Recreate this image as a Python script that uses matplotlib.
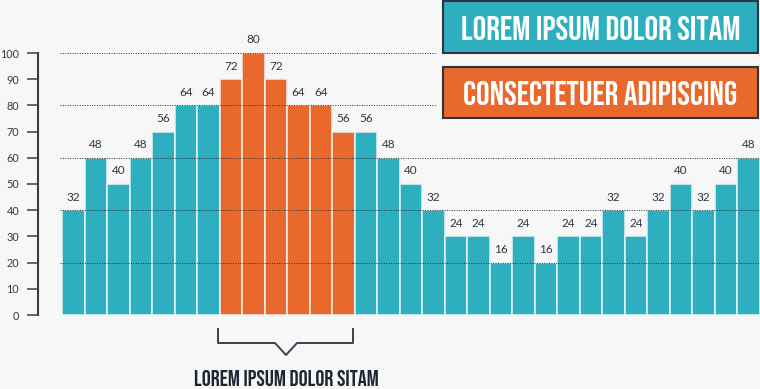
import matplotlib
matplotlib.use("Agg")
import matplotlib.pyplot as plt
from matplotlib import font_manager as fm
from matplotlib.lines import Line2D
from matplotlib.patches import Rectangle

# ---- data ----
bar_heights = [40, 60, 50, 60, 70, 80, 80, 90, 100, 90, 80, 80, 70,
               70, 60, 50, 40, 30, 30, 20, 30, 20, 30, 30, 40, 30, 40, 50, 40, 50, 60]
value_labels = [32, 48, 40, 48, 56, 64, 64, 72, 80, 72, 64, 64, 56,
                56, 48, 40, 32, 24, 24, 16, 24, 16, 24, 24, 32, 24, 32, 40, 32, 40, 48]
highlighted = [7, 8, 9, 10, 11, 12]
y_ticks = [0, 10, 20, 30, 40, 50, 60, 70, 80, 90, 100]
legend_labels = ["LOREM IPSUM DOLOR SITAM", "CONSECTETUER ADIPISCING"]
bracket_label = "LOREM IPSUM DOLOR SITAM"

# ---- style ----
BG = "#f7f7f8"
TEAL = "#2eafbf"
ORANGE = "#e8692b"
DARK = "#363c48"
NAVY = "#1e2534"

available = {f.name for f in fm.fontManager.ttflist}
def pick(*names):
    for n in names:
        if n in available:
            return n
    return "DejaVu Sans"

HEAD = pick("Bebas Neue", "Oswald", "Fjalla One", "Anton")
BODY = pick("Lato", "Noto Sans", "Open Sans")

W, H = 760, 389
fig = plt.figure(figsize=(W / 100, H / 100), dpi=100, facecolor=BG)

def fx(x):
    return x / W
def fy(y):
    return 1 - y / H

# axes: spine at px 38, y=0 at px 315, y=100 at px 53
ax = fig.add_axes([fx(38), fy(315), fx(760) - fx(38), fy(53) - fy(315)])
ax.set_facecolor(BG)
ax.set_ylim(0, 100)
ax.set_xlim(-1.567, 30.52)

colors = [ORANGE if i in highlighted else TEAL for i in range(len(bar_heights))]
xs = list(range(len(bar_heights)))
ax.bar(xs, bar_heights, width=1.0, color=colors, edgecolor="#e9f3f5",
       linewidth=1.1, zorder=2)

for x, h, lab in zip(xs, bar_heights, value_labels):
    ax.annotate(str(lab), (x, h), xytext=(0, 9.5), textcoords="offset points",
                ha="center", va="center", fontsize=8.5, color="#2f3540",
                family=BODY, clip_on=False, annotation_clip=False)

# dotted grid lines (on top of bars)
for g in [20, 40, 60]:
    ax.plot([-0.59, 30.52], [g, g], linestyle=(0, (1, 1.5)), lw=0.7,
            color="#2a2f38", zorder=3, clip_on=False)
for g in [80, 100]:
    ax.plot([-0.59, 16.1], [g, g], linestyle=(0, (1, 1.5)), lw=0.7,
            color="#2a2f38", zorder=3, clip_on=False)

for s in ["top", "right", "bottom"]:
    ax.spines[s].set_visible(False)
ax.spines["left"].set_color(DARK)
ax.spines["left"].set_linewidth(1.5)
ax.set_xticks([])
ax.set_yticks(y_ticks)
ax.set_yticklabels([str(t) for t in y_ticks], family=BODY, fontsize=7.8, color="#333a45")
ax.tick_params(axis="y", direction="out", length=8, width=1.1, color=DARK, pad=5.5)

# legend boxes
for (top, bottom), col, lab in zip([(1.5, 53), (67, 118)], [TEAL, ORANGE], legend_labels):
    r = Rectangle((fx(443), fy(bottom)), fx(758) - fx(443), fy(top) - fy(bottom),
                  transform=fig.transFigure, facecolor=col, edgecolor="#2f3440",
                  linewidth=1.5, zorder=5)
    fig.add_artist(r)
    fig.text(fx(600.5), fy((top + bottom) / 2 + 0.5), lab, ha="center", va="center",
             family=HEAD, fontsize=24.5, color="white", zorder=6)

# bracket under highlighted group
bx = [218, 218, 275, 286, 297, 353, 353]
by = [329, 343, 343, 355, 343, 343, 329]
fig.add_artist(Line2D([fx(v) for v in bx], [fy(v) for v in by],
                      transform=fig.transFigure, color="#3a4050", lw=1.4))
fig.text(fx(286), fy(378.5), bracket_label, ha="center", va="center",
         family=HEAD, fontsize=16.2, color=NAVY)

fig.savefig("out.png", dpi=100, facecolor=BG)
